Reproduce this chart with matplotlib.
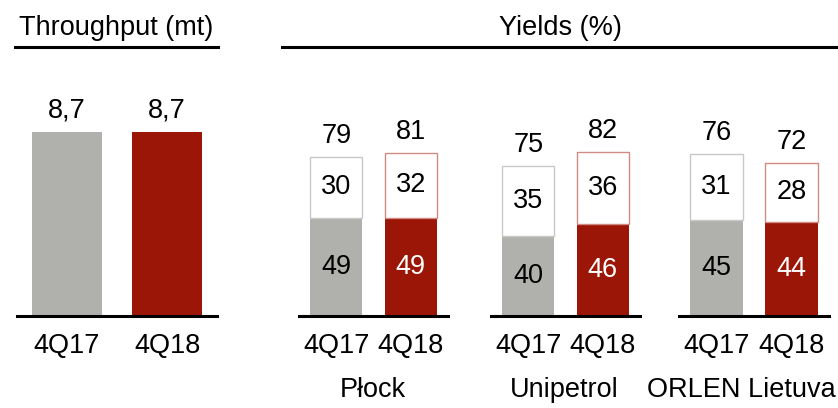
import matplotlib
matplotlib.use("Agg")
import matplotlib.pyplot as plt
from matplotlib.lines import Line2D
from matplotlib import font_manager

names = {f.name for f in font_manager.fontManager.ttflist}
fam = "Liberation Sans Narrow" if "Liberation Sans Narrow" in names else "Liberation Sans"
plt.rcParams['font.family'] = [fam, 'DejaVu Sans']

periods = ["4Q17", "4Q18"]
throughput = [8.7, 8.7]
throughput_labels = ["8,7", "8,7"]
refineries = ["Płock", "Unipetrol", "ORLEN Lietuva"]
yield_bottom = [[49, 49], [40, 46], [45, 44]]
yield_top = [[30, 32], [35, 36], [31, 28]]
yield_total = [[79, 81], [75, 82], [76, 72]]

GRAY = "#B0B1AC"
RED = "#9B1606"
GRAY_EDGE = "#C8C8C8"
RED_EDGE = "#D08A80"

W, H = 838, 408
fig = plt.figure(figsize=(W / 100, H / 100), dpi=100)

base_y = 316
top_y = 66
FS = 19.5

def ax_at(x0, x1):
    return fig.add_axes([x0 / W, 1 - base_y / H, (x1 - x0) / W, (base_y - top_y) / H])

def style(ax):
    for s in ["top", "right", "left"]:
        ax.spines[s].set_visible(False)
    ax.spines["bottom"].set_linewidth(2.2)
    ax.spines["bottom"].set_color("black")
    ax.set_yticks([])
    ax.tick_params(axis="x", length=0, pad=12, labelsize=FS)
    ax.set_xlim(-0.5, 1.5)
    ax.set_xticks([0, 1])
    ax.set_xticklabels(periods)

# Throughput
ax = ax_at(17, 217)
style(ax)
ax.set_ylim(0, (base_y - top_y) / 21.2)
cols = [GRAY, RED]
for i, v in enumerate(throughput):
    ax.bar(i, v, width=0.7, color=cols[i], edgecolor="none")
    ax.annotate(throughput_labels[i], (i, v), xytext=(0, 15), textcoords="offset points",
                ha="center", va="center", fontsize=FS)

# Yields
groups = [(299, 448), (491, 640), (679, 829)]
scales = [2.01, 2.0, 2.13]
for g, (x0, x1) in enumerate(groups):
    ax = ax_at(x0, x1)
    style(ax)
    ax.set_ylim(0, (base_y - top_y) / scales[g])
    for i in range(2):
        b = yield_bottom[g][i]
        t = yield_top[g][i]
        ax.bar(i, b, width=0.7, color=cols[i], edgecolor="none")
        ax.bar(i, t, bottom=b, width=0.7, color="white",
               edgecolor=[GRAY_EDGE, RED_EDGE][i], linewidth=1.0)
        ax.text(i, b / 2, str(b), ha="center", va="center", fontsize=FS,
                color=["black", "white"][i])
        ax.text(i, b + t / 2, str(t), ha="center", va="center", fontsize=FS, color="black")
        ax.annotate(str(yield_total[g][i]), (i, b + t), xytext=(0, 15),
                    textcoords="offset points", ha="center", va="center", fontsize=FS)

# Group names
name_y = 1 - 390 / H
name_x = [373, 564, 836]
name_ha = ["center", "center", "right"]
for g in range(3):
    fig.text(name_x[g] / W, name_y, refineries[g], ha=name_ha[g], va="center", fontsize=FS)

# Titles
fig.text(116 / W, 1 - 28 / H, "Throughput (mt)", ha="center", va="center", fontsize=FS)
fig.text(560 / W, 1 - 28 / H, "Yields (%)", ha="center", va="center", fontsize=FS)
fig.add_artist(Line2D([15 / W, 218 / W], [1 - 47 / H] * 2, color="black", lw=2.2))
fig.add_artist(Line2D([282 / W, 838 / W], [1 - 47 / H] * 2, color="black", lw=2.2))

fig.savefig("out.png", dpi=100)
